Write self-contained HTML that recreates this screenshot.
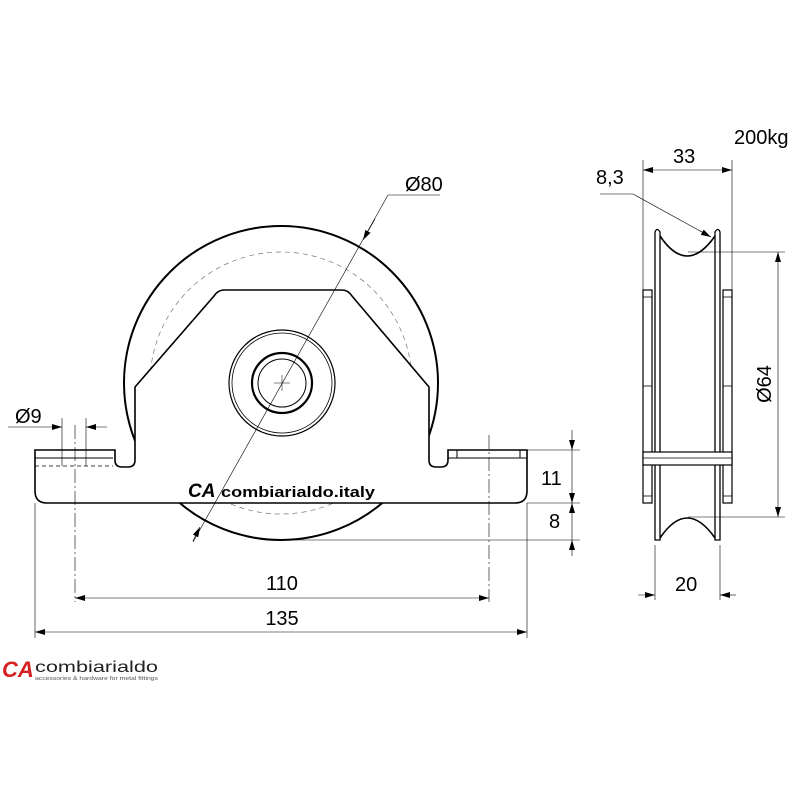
<!DOCTYPE html>
<html><head><meta charset="utf-8"><style>html,body{margin:0;padding:0;background:#fff}svg{display:block}</style></head>
<body>
<svg width="800" height="800" viewBox="0 0 800 800" xmlns="http://www.w3.org/2000/svg" font-family="Liberation Sans, sans-serif">
<defs>
<marker id="a" viewBox="0 0 10 6" refX="10" refY="3" markerWidth="10" markerHeight="6" orient="auto-start-reverse" markerUnits="userSpaceOnUse"><path d="M0,0 L10,3 L0,6 z" fill="#000"/></marker>
</defs>
<g fill="none" stroke="#000">
<!-- wheel -->
<circle cx="281" cy="383" r="157" stroke-width="2"/>
<circle cx="281" cy="383" r="131" stroke-width="0.7" stroke="#777" stroke-dasharray="5,4"/>
<!-- bracket (white fill covers wheel) -->
<path d="M35,450 L115,450 L115,460 Q115,467 122,467 L128,467 Q135,467 135,460 L135,387 L214,296 Q218,290 224,290 L342,290 Q348,290 352,296 L429,387 L429,460 Q429,467 436,467 L441,467 Q448,467 448,460 L448,450 L527,450 L527,491 Q527,503 515,503 L47,503 Q35,503 35,491 Z" fill="#fff" stroke-width="1.6"/>
<line x1="35" y1="458" x2="113" y2="458" stroke-width="1"/>
<line x1="35" y1="466" x2="113" y2="466" stroke-width="0.7" stroke-dasharray="4,3"/>
<line x1="62" y1="450" x2="62" y2="466" stroke-width="0.6"/>
<line x1="86" y1="450" x2="86" y2="466" stroke-width="0.6"/>
<rect x="457" y="450" width="63" height="8" stroke-width="1"/>
<line x1="448" y1="458" x2="527" y2="458" stroke-width="1"/>
<!-- hub -->
<circle cx="282" cy="383" r="53" stroke-width="1.2"/>
<circle cx="282" cy="383" r="50" stroke-width="0.8"/>
<circle cx="282" cy="383" r="30" stroke-width="2.2"/>
<circle cx="282" cy="383" r="24" stroke-width="1"/>
<line x1="274" y1="383" x2="290" y2="383" stroke-width="0.5"/>
<line x1="282" y1="375" x2="282" y2="391" stroke-width="0.5"/>
<!-- center lines -->
<line x1="75" y1="425" x2="75" y2="602" stroke-width="0.6" stroke-dasharray="14,3,2,3"/>
<line x1="489" y1="435" x2="489" y2="602" stroke-width="0.6" stroke-dasharray="14,3,2,3"/>
<!-- extension lines -->
<line x1="62" y1="418" x2="62" y2="450" stroke-width="0.6"/>
<line x1="86" y1="418" x2="86" y2="450" stroke-width="0.6"/>
<line x1="35" y1="503" x2="35" y2="638" stroke-width="0.6"/>
<line x1="527" y1="503" x2="527" y2="638" stroke-width="0.6"/>
<line x1="527" y1="450" x2="580" y2="450" stroke-width="0.6"/>
<line x1="527" y1="503" x2="580" y2="503" stroke-width="0.6"/>
<line x1="281" y1="540" x2="580" y2="540" stroke-width="0.6"/>
<!-- dims -->
<line x1="8" y1="427" x2="62" y2="427" stroke-width="0.6" marker-end="url(#a)"/>
<line x1="107" y1="427" x2="86" y2="427" stroke-width="0.6" marker-end="url(#a)"/>
<line x1="75" y1="598" x2="489" y2="598" stroke-width="0.6" marker-start="url(#a)" marker-end="url(#a)"/>
<line x1="35" y1="632" x2="527" y2="632" stroke-width="0.6" marker-start="url(#a)" marker-end="url(#a)"/>
<line x1="572" y1="430" x2="572" y2="450" stroke-width="0.6" marker-end="url(#a)"/>
<line x1="572" y1="450" x2="572" y2="503" stroke-width="0.6" marker-end="url(#a)"/>
<line x1="572" y1="503" x2="572" y2="540" stroke-width="0.6" marker-start="url(#a)"/>
<line x1="572" y1="540" x2="572" y2="556" stroke-width="0.6" marker-start="url(#a)"/>
<!-- Ø80 leader -->
<polyline points="440,195 388,195 193,542" stroke-width="0.6"/>
<line x1="375" y1="219" x2="363" y2="240" stroke-width="0.6" marker-end="url(#a)"/>
<line x1="193" y1="541" x2="200" y2="527" stroke-width="0.6" marker-end="url(#a)"/>

<!-- side view -->
<rect x="643" y="290" width="9" height="213" fill="#fff" stroke-width="1.2"/>
<rect x="723" y="290" width="9" height="213" fill="#fff" stroke-width="1.2"/>
<line x1="643" y1="297" x2="652" y2="297" stroke-width="0.8"/><line x1="723" y1="297" x2="732" y2="297" stroke-width="0.8"/>
<line x1="643" y1="386" x2="652" y2="386" stroke-width="0.8"/><line x1="723" y1="386" x2="732" y2="386" stroke-width="0.8"/>
<line x1="643" y1="496" x2="652" y2="496" stroke-width="0.8"/><line x1="723" y1="496" x2="732" y2="496" stroke-width="0.8"/>
<path d="M655,540 L655,232 Q657,227 660,232 L660,540 Z" fill="#fff" stroke-width="1.3"/>
<path d="M715,540 L715,232 Q718,227 720,232 L720,540 Z" fill="#fff" stroke-width="1.3"/>
<path d="M660,236 Q687,276 715,236" stroke-width="1.6"/>
<path d="M660,538 Q687,498 715,538" stroke-width="1.6"/>
<rect x="643" y="452" width="89" height="13" fill="#fff" stroke-width="1.2"/>
<line x1="643" y1="458" x2="732" y2="458" stroke-width="0.7"/>
<!-- side dims -->
<line x1="643" y1="160" x2="643" y2="290" stroke-width="0.6"/>
<line x1="732" y1="160" x2="732" y2="290" stroke-width="0.6"/>
<line x1="643" y1="170" x2="732" y2="170" stroke-width="0.6" marker-start="url(#a)" marker-end="url(#a)"/>
<polyline points="600,194 633,194 711,237" stroke-width="0.6"/>
<line x1="700" y1="231" x2="711" y2="237" stroke-width="0.6" marker-end="url(#a)"/>
<line x1="688" y1="252" x2="785" y2="252" stroke-width="0.6"/>
<line x1="688" y1="517" x2="785" y2="517" stroke-width="0.6"/>
<line x1="778" y1="252" x2="778" y2="517" stroke-width="0.6" marker-start="url(#a)" marker-end="url(#a)"/>
<line x1="655" y1="545" x2="655" y2="600" stroke-width="0.6"/>
<line x1="720" y1="545" x2="720" y2="600" stroke-width="0.6"/>
<line x1="638" y1="595" x2="655" y2="595" stroke-width="0.6" marker-end="url(#a)"/>
<line x1="736" y1="595" x2="720" y2="595" stroke-width="0.6" marker-end="url(#a)"/>
</g>
<g font-size="20" fill="#000">
<text x="405" y="191">Ø80</text>
<text x="15" y="423">Ø9</text>
<text x="541" y="485">11</text>
<text x="549" y="528">8</text>
<text x="282" y="590" text-anchor="middle">110</text>
<text x="282" y="625" text-anchor="middle">135</text>
<text x="673" y="163">33</text>
<text x="596" y="184">8,3</text>
<text x="734" y="144">200kg</text>
<text x="675" y="591">20</text>
<text transform="translate(771,384) rotate(-90)" text-anchor="middle">Ø64</text>
</g>
<text x="188" y="497" font-size="19" font-weight="bold" font-style="italic" fill="#000" font-family="Liberation Sans, sans-serif">CA</text>
<text x="221" y="497" font-size="15" font-weight="bold" fill="#000" textLength="154" lengthAdjust="spacingAndGlyphs">combiarialdo.italy</text>
<text x="2" y="677" font-size="22" font-weight="bold" font-style="italic" fill="#d62020">CA</text>
<text x="35" y="672" font-size="16" fill="#222" textLength="123" lengthAdjust="spacingAndGlyphs">combiarialdo</text>
<text x="35" y="680" font-size="5" fill="#555" textLength="123" lengthAdjust="spacingAndGlyphs">accessories &amp; hardware for metal fittings</text>
</svg>
</body></html>
